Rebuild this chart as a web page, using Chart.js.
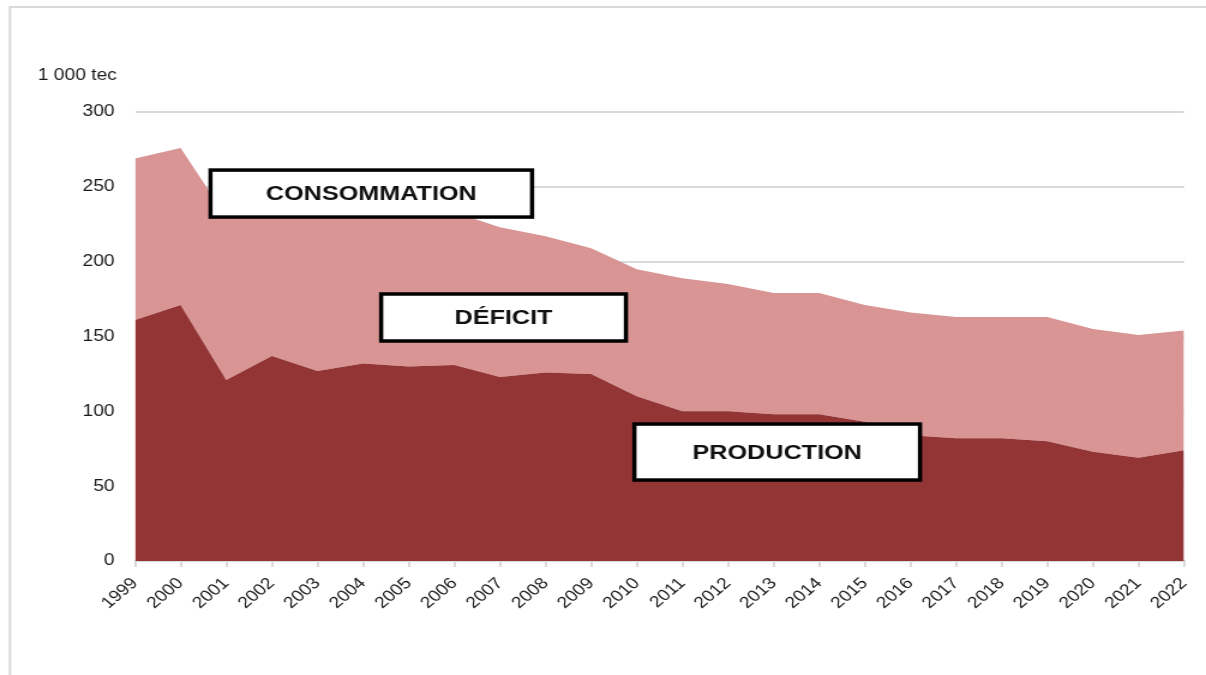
<!DOCTYPE html>
<html>
<head>
<meta charset="utf-8">
<script src="https://cdn.jsdelivr.net/npm/chart.js@4"></script>
<style>
  body { margin: 0; overflow: hidden; background: #fff; }
  /* the source picture is stretched sideways, so the canvas is too */
  #wrap { width: 1005px; height: 675px; transform: scaleX(1.2); transform-origin: 0 0; }
</style>
</head>
<body>
<div id="wrap"><canvas id="chart" width="1005" height="675"></canvas></div>
<script>
const years = ['1999', '2000', '2001', '2002', '2003', '2004', '2005', '2006', '2007', '2008', '2009', '2010',
               '2011', '2012', '2013', '2014', '2015', '2016', '2017', '2018', '2019', '2020', '2021', '2022'];
const production = [161, 171, 121, 137, 127, 132, 130, 131, 123, 126, 125, 110,
                    100, 100, 98, 98, 93, 84, 82, 82, 80, 73, 69, 74];
const consommation = [269, 276, 230, 236, 233, 236, 235, 233, 223, 217, 209, 195,
                      189, 185, 179, 179, 171, 166, 163, 163, 163, 155, 151, 154];
const yTicks = [0, 50, 100, 150, 200, 250, 300];
const unitLabel = '1 000 tec';
const boxLabels = ['CONSOMMATION', 'DÉFICIT', 'PRODUCTION'];

// where the label boxes sit, in axis units (x = year index), and their size
const boxPlaces = [
    { x: 5.18, y: 245.5, w: 268, h: 47 },
    { x: 8.08, y: 162.7, w: 204, h: 47 },
    { x: 14.08, y: 72.8, w: 238, h: 56 }
];

const font = '"Liberation Sans", Arial, sans-serif';

const decor = {
    id: 'decor',
    beforeDraw(chart) {
        const ctx = chart.ctx;
        ctx.save();
        ctx.fillStyle = '#fff';
        ctx.fillRect(0, 0, chart.width, chart.height);
        // frame
        ctx.strokeStyle = '#d9d9d9';
        ctx.lineWidth = 2;
        ctx.beginPath();
        ctx.moveTo(8.3, chart.height);
        ctx.lineTo(8.3, 7);
        ctx.lineTo(chart.width, 7);
        ctx.stroke();
        // unit
        ctx.fillStyle = '#1a1a1a';
        ctx.font = '16px ' + font;
        ctx.textBaseline = 'alphabetic';
        ctx.fillText(unitLabel, 31.5, 80);
        ctx.restore();
    },
    afterDatasetsDraw(chart) {
        const ctx = chart.ctx;
        const x = chart.scales.x;
        const y = chart.scales.y;
        ctx.save();
        boxLabels.forEach((text, i) => {
            const p = boxPlaces[i];
            const cx = x.getPixelForValue(p.x);
            const cy = y.getPixelForValue(p.y);
            ctx.fillStyle = '#fff';
            ctx.fillRect(cx - p.w / 2, cy - p.h / 2, p.w, p.h);
            ctx.strokeStyle = '#000';
            ctx.lineWidth = 3.5;
            ctx.strokeRect(cx - p.w / 2, cy - p.h / 2, p.w, p.h);
            ctx.fillStyle = '#111';
            ctx.font = 'bold 21px ' + font;
            ctx.textAlign = 'center';
            ctx.textBaseline = 'middle';
            ctx.fillText(text, cx, cy + 1);
        });
        ctx.restore();
    }
};

new Chart(document.getElementById('chart'), {
    type: 'line',
    data: {
        labels: years,
        datasets: [{
            label: 'Production',
            data: production,
            fill: 'origin',
            backgroundColor: '#933535',
            borderWidth: 0,
            pointRadius: 0,
            tension: 0
        }, {
            label: 'Consommation',
            data: consommation,
            fill: '-1',
            backgroundColor: '#d99494',
            borderWidth: 0,
            pointRadius: 0,
            tension: 0
        }]
    },
    options: {
        responsive: false,
        animation: false,
        devicePixelRatio: 1,
        layout: { padding: { top: 112, right: 18.3, left: 0, bottom: 0 } },
        plugins: {
            legend: { display: false },
            tooltip: { enabled: false }
        },
        scales: {
            x: {
                grid: { drawOnChartArea: false, drawTicks: true, tickLength: 6, color: '#d9d9d9', lineWidth: 2 },
                border: { display: true, color: '#d9d9d9', width: 2 },
                ticks: {
                    autoSkip: false,
                    minRotation: 45,
                    maxRotation: 45,
                    padding: 7,
                    color: '#1a1a1a',
                    font: { family: font, size: 16 }
                },
                afterFit: s => {
                    s.height = 114;
                    s.paddingLeft = 0;
                    s.paddingRight = 0;
                }
            },
            y: {
                min: 0,
                max: 300,
                afterBuildTicks: s => { s.ticks = yTicks.map(v => ({ value: v })); },
                grid: { color: '#d9d9d9', lineWidth: 2, drawTicks: false },
                border: { display: false },
                ticks: {
                    padding: 17,
                    color: '#1a1a1a',
                    font: { family: font, size: 16 }
                },
                afterFit: s => { s.width = 112.5; }
            }
        }
    },
    plugins: [decor]
});
</script>
</body>
</html>
